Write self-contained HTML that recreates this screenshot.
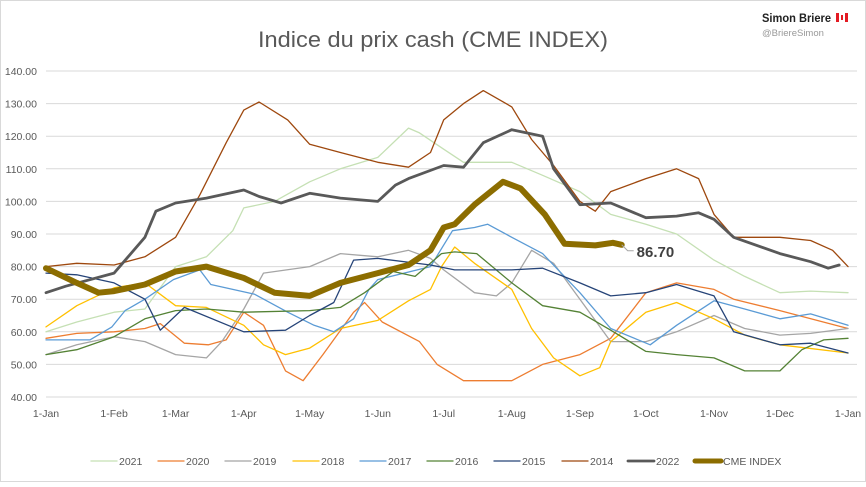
<!DOCTYPE html>
<html><head><meta charset="utf-8">
<style>
html,body{margin:0;padding:0;background:#fff;}
body{width:866px;height:482px;overflow:hidden;font-family:"Liberation Sans",sans-serif;}
svg text{font-family:"Liberation Sans",sans-serif;}
</style></head>
<body>
<svg id="chart" width="866" height="482" viewBox="0 0 866 482" xmlns="http://www.w3.org/2000/svg">
<rect x="0.5" y="0.5" width="865" height="481" fill="#fff" stroke="#d9d9d9"/>
<text x="433" y="47" text-anchor="middle" font-size="22" fill="#595959" textLength="350" lengthAdjust="spacingAndGlyphs">Indice du prix cash (CME INDEX)</text>
<text x="762" y="22" font-size="11.5" font-weight="bold" fill="#222" textLength="69" lengthAdjust="spacingAndGlyphs">Simon Briere</text>
<g><rect x="836" y="13" width="12" height="9" fill="#fff"/><rect x="836" y="13" width="3" height="9" fill="#e31b23"/><rect x="845" y="13" width="3" height="9" fill="#e31b23"/><rect x="841" y="15" width="2" height="5" fill="#e31b23"/></g>
<text x="762" y="36" font-size="9.5" fill="#999">@BriereSimon</text>
<g id="grid"></g><g id="series"></g><g id="labels"></g><g id="legend"></g>
</svg>
<script>
const yTicks=[40,50,60,70,80,90,100,110,120,130,140];
const monthLabels=["1-Jan","1-Feb","1-Mar","1-Apr","1-May","1-Jun","1-Jul","1-Aug","1-Sep","1-Oct","1-Nov","1-Dec","1-Jan"];
const monthDays=[0,31,59,90,120,151,181,212,243,273,304,334,365];
const seriesNames=["2021","2020","2019","2018","2017","2016","2015","2014","2022","CME INDEX"];
const s2021=[[0,60],[14,63],[31,66],[45,67],[59,80],[73,83],[85,91],[90,98],[104,100],[120,106],[134,110],[151,113.5],[165,122.5],[170,121],[181,116],[190,112],[212,112],[226,108],[243,103],[257,96],[273,93],[287,90],[304,82],[318,77],[334,72],[348,72.5],[365,72]];
const s2020=[[0,58],[14,59.5],[31,60],[45,61],[52,62.5],[63,56.5],[74,56],[82,57.5],[90,66],[99,62],[109,48],[117,45],[126,53],[140,66],[145,69],[153,63],[170,57],[178,50],[190,45],[212,45],[226,50],[243,53],[257,58],[273,72],[287,75],[304,73],[313,70],[334,66.5],[365,61]];
const s2019=[[0,53],[14,56],[31,58.5],[45,57],[59,53],[73,52],[80,57],[90,67],[99,78],[120,80],[134,84],[151,83],[165,85],[175,82.5],[181,79],[195,72],[205,71],[212,75],[221,85],[231,81],[243,70],[257,57],[273,57],[287,60],[304,65],[318,61],[334,59],[348,59.5],[365,61]];
const s2018=[[0,61.5],[14,68],[31,73.5],[45,75],[59,68],[73,67.5],[90,62],[99,56],[109,53],[120,55],[134,61],[151,63.5],[165,69.5],[175,73],[180,80],[186,86],[195,81],[212,73],[221,61],[231,52],[243,46.5],[252,49],[257,57],[273,66],[287,69],[304,64],[318,59],[334,56],[365,53.5]];
const s2017=[[0,57.5],[20,57.5],[30,61.5],[36,66.5],[45,70],[58,76],[70,79],[75,74.5],[95,71.5],[110,66],[122,62],[131,60],[140,64],[147,73],[151,76],[175,80],[185,91],[195,92],[201,93],[212,89],[226,84],[243,72],[257,61],[275,56],[287,62],[304,69.5],[318,67],[334,64],[348,65.5],[365,62]];
const s2016=[[0,53],[14,54.5],[31,58.5],[45,64],[59,66.5],[73,67],[90,66],[120,66.5],[134,67.5],[145,72],[158,78.5],[168,77],[180,84],[186,84.5],[196,84],[212,75],[226,68],[243,66],[257,60.5],[273,54],[287,53],[304,52],[318,48],[334,48],[344,54.5],[354,57.5],[365,58]];
const s2015=[[0,78],[14,77.5],[31,75],[45,70],[52,60.5],[63,67.5],[90,60],[109,60.5],[120,65],[131,69],[140,82],[151,82.5],[175,80.5],[186,79],[201,79],[212,79],[226,79.5],[243,75],[257,71],[273,72],[287,74.5],[304,71],[313,60],[334,56],[348,56.5],[365,53.5]];
const s2014=[[0,80],[14,81],[31,80.5],[45,83],[59,89],[70,102],[82,118],[90,128],[97,130.5],[110,125],[120,117.5],[134,115],[151,112],[165,110.5],[175,115],[181,125],[190,130],[199,134],[212,129],[221,119],[231,111],[243,100],[250,97],[257,103],[273,107],[287,110],[297,107],[304,96],[313,89],[334,89],[348,88],[358,85],[365,80]];
const s2022=[[0,72],[9,74],[31,78],[45,89],[50,97],[59,99.5],[73,101],[90,103.5],[97,101.5],[107,99.5],[120,102.5],[134,101],[151,100],[159,105],[165,107],[181,111],[190,110.5],[199,118],[212,122],[226,120],[231,110],[243,99],[257,99.5],[273,95],[287,95.5],[297,96.5],[304,94.5],[313,89],[334,84],[348,81.5],[356,79.5],[361,80.5]];
const sCME=[[0,79.5],[14,75],[24,72],[31,72.5],[45,74.5],[59,78.5],[73,80],[90,76.5],[104,72],[120,71],[134,75],[151,78],[165,80.5],[175,85],[181,92],[186,93],[195,99],[208,106],[216,104],[227,96],[236,87],[250,86.5],[258,87.3],[262,86.7]];
const allSeries=[s2021,s2020,s2019,s2018,s2017,s2016,s2015,s2014,s2022,sCME];
const colors=["#c5e0b4","#ed7d31","#a5a5a5","#ffc000","#5b9bd5","#548235","#264478","#9e480e","#595959","#8c6d00"];
const widths=[1.3,1.3,1.3,1.3,1.3,1.3,1.3,1.3,2.8,6];
const X0=46,X1=848,Y0=397,Y1=71;
function xs(d){return X0+(X1-X0)*d/365;}
function ys(v){return Y0-(Y0-Y1)*(v-40)/100;}
const NS="http://www.w3.org/2000/svg";
function mk(tag,attrs,parent){const e=document.createElementNS(NS,tag);for(const k in attrs)e.setAttribute(k,attrs[k]);parent.appendChild(e);return e;}
const grid=document.getElementById('grid'),ser=document.getElementById('series'),lab=document.getElementById('labels'),leg=document.getElementById('legend');
yTicks.forEach(v=>{
  const l=mk('line',{x1:X0,x2:857,y1:ys(v),y2:ys(v),stroke:'#d9d9d9','stroke-width':1},grid);
  
  
  const t=mk('text',{x:37,y:ys(v)+4,'text-anchor':'end','font-size':10.5,fill:'#595959'},lab);
  t.textContent=v.toFixed(2);
  
  
});
monthLabels.forEach((m,i)=>{
  const t=mk('text',{x:xs(monthDays[i]),y:417,'text-anchor':'middle','font-size':10.5,fill:'#595959'},lab);
  t.textContent=m;
  
  
});
allSeries.forEach((s,i)=>{
  const p=mk('polyline',{points:s.map(q=>xs(q[0]).toFixed(1)+','+ys(q[1]).toFixed(1)).join(' '),fill:'none',stroke:colors[i],'stroke-width':widths[i],'stroke-linejoin':'round','stroke-linecap':'round'},ser);
  
  
});
const last=sCME[sCME.length-1];
const ll=mk('polyline',{points:`${xs(last[0])},${ys(last[1])} ${xs(last[0])+6},${ys(last[1])+6} ${xs(last[0])+12},${ys(last[1])+6}`,fill:'none',stroke:'#a5a5a5','stroke-width':1},lab);


const vl=mk('text',{x:xs(last[0])+15,y:ys(last[1])+12,'font-size':15,'font-weight':'bold',fill:'#404040'},lab);
vl.textContent=last[1].toFixed(2);


const legX=[91,158,225,293,360,427,494,562,628,695];
seriesNames.forEach((n,i)=>{
  const g=mk('g',{},leg);
  
  
  mk('line',{x1:legX[i],x2:legX[i]+26,y1:461,y2:461,stroke:colors[i],'stroke-width':Math.min(widths[i],5),'stroke-linecap':'round'},g);
  const t=mk('text',{x:legX[i]+28,y:465,'font-size':10.5,fill:'#595959'},g);
  t.textContent=n;
});
</script>
</body></html>
